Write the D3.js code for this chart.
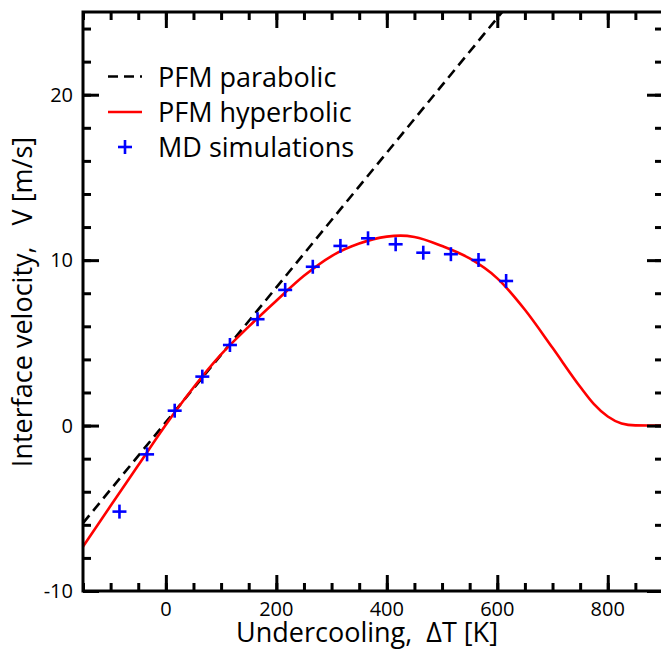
<!DOCTYPE html>
<html>
<head>
<meta charset="utf-8">
<script src="https://cdn.jsdelivr.net/npm/d3@7"></script>
<style>
  html, body { margin: 0; padding: 0; background: #fff; }
  svg text { font-family: "Open Sans", "Noto Sans", sans-serif; fill: #000; }
</style>
</head>
<body>
<svg id="chart" width="661" height="654"></svg>
<script>
// ---- data ----
const mdUndercooling = [-84, -34, 16, 66, 116, 166, 216, 266, 316, 366, 416, 466, 516, 566, 616];
const mdVelocity     = [-5.2, -1.74, 0.9, 2.96, 4.87, 6.43, 8.2, 9.6, 10.86, 11.32, 10.96, 10.45, 10.36, 10.01, 8.74];

const hypUndercooling = [-150, -100, -50, 0, 50, 100, 150, 200, 250, 300, 350, 400, 425, 450, 500, 550, 600, 650, 700, 750, 775, 800, 825, 850, 875, 900];
const hypVelocity     = [-7.32, -4.85, -2.4, 0.05, 2.3, 4.3, 5.98, 7.55, 9.05, 10.25, 11.0, 11.42, 11.48, 11.4, 10.85, 10.1, 8.9, 7.0, 4.7, 2.35, 1.3, 0.55, 0.13, 0.01, 0, 0];

const parUndercooling = [-150, 615];
const parVelocity     = [-5.9, 25.25];

const xTicks = [0, 200, 400, 600, 800];
const yTicks = [-10, 0, 10, 20];
const legendLabels = ["PFM parabolic", "PFM hyperbolic", "MD simulations"];

// ---- layout ----
const svg = d3.select("#chart");
const mLeft = 83, mRight = 663, mTop = 12, mBottom = 591;
const x = d3.scaleLinear().domain([-150, 900]).range([mLeft, mRight]);
const y = d3.scaleLinear().domain([-10, 25]).range([mBottom, mTop]);

const defs = svg.append("defs");
defs.append("clipPath").attr("id", "clip")
  .append("rect").attr("x", mLeft).attr("y", mTop).attr("width", mRight - mLeft).attr("height", mBottom - mTop);

const plot = svg.append("g").attr("clip-path", "url(#clip)");

const line = d3.line().x(d => x(d[0])).y(d => y(d[1]));

// parabolic dashed
plot.append("path")
  .datum(d3.zip(parUndercooling, parVelocity))
  .attr("d", line)
  .attr("fill", "none").attr("stroke", "#000").attr("stroke-width", 2.6)
  .attr("stroke-dasharray", "10,6");

// hyperbolic red
plot.append("path")
  .datum(d3.zip(hypUndercooling, hypVelocity))
  .attr("d", d3.line().x(d => x(d[0])).y(d => y(d[1])).curve(d3.curveMonotoneX))
  .attr("fill", "none").attr("stroke", "#ff0000").attr("stroke-width", 2.6);

// MD plus markers
const plusSize = 7;
const plus = (g) => {
  g.append("line").attr("x1", -plusSize).attr("x2", plusSize).attr("y1", 0).attr("y2", 0);
  g.append("line").attr("x1", 0).attr("x2", 0).attr("y1", -plusSize).attr("y2", plusSize);
};
const md = plot.selectAll("g.md").data(d3.zip(mdUndercooling, mdVelocity)).enter()
  .append("g").attr("class", "md")
  .attr("transform", d => `translate(${x(d[0])},${y(d[1])})`)
  .attr("stroke", "#0000ff").attr("stroke-width", 2.6);
md.each(function() { plus(d3.select(this)); });

// ---- axes (ticks inward on all four sides) ----
const xMinor = d3.range(-150, 901, 50);
const yMinor = d3.range(-10, 25.01, 2);
const axisW = 3;

function styleAxis(g) {
  g.selectAll("path.domain").remove();
  g.selectAll(".tick line").attr("stroke", "#000").attr("stroke-width", 3);
}

svg.append("g").attr("transform", `translate(0,${mBottom})`)
  .call(d3.axisBottom(x).tickValues(xMinor).tickSize(-8).tickFormat(""))
  .call(styleAxis);
svg.append("g").attr("transform", `translate(0,${mTop})`)
  .call(d3.axisTop(x).tickValues(xMinor).tickSize(-8).tickFormat(""))
  .call(styleAxis);
svg.append("g").attr("transform", `translate(${mLeft},0)`)
  .call(d3.axisLeft(y).tickValues(yMinor).tickSize(-8).tickFormat(""))
  .call(styleAxis);
svg.append("g").attr("transform", `translate(${mRight},0)`)
  .call(d3.axisRight(y).tickValues(yMinor).tickSize(-8).tickFormat(""))
  .call(styleAxis);

const xMajor = d3.range(0, 901, 200);
const yMajor = d3.range(-10, 25.01, 10);
svg.append("g").attr("transform", `translate(0,${mBottom})`)
  .call(d3.axisBottom(x).tickValues(xMajor).tickSize(-16).tickFormat(""))
  .call(styleAxis);
svg.append("g").attr("transform", `translate(0,${mTop})`)
  .call(d3.axisTop(x).tickValues(xMajor).tickSize(-16).tickFormat(""))
  .call(styleAxis);
svg.append("g").attr("transform", `translate(${mLeft},0)`)
  .call(d3.axisLeft(y).tickValues(yMajor).tickSize(-16).tickFormat(""))
  .call(styleAxis);
svg.append("g").attr("transform", `translate(${mRight},0)`)
  .call(d3.axisRight(y).tickValues(yMajor).tickSize(-16).tickFormat(""))
  .call(styleAxis);

// tick labels
svg.append("g").selectAll("text").data(xTicks).enter().append("text")
  .attr("x", d => x(d)).attr("y", 616)
  .attr("text-anchor", "middle").attr("font-size", 20)
  .text(d => d);
svg.append("g").selectAll("text").data(yTicks).enter().append("text")
  .attr("x", 73).attr("y", d => y(d) + 7)
  .attr("text-anchor", "end").attr("font-size", 20)
  .text(d => d);

// frame
svg.append("rect").attr("x", mLeft).attr("y", mTop)
  .attr("width", mRight - mLeft).attr("height", mBottom - mTop)
  .attr("fill", "none").attr("stroke", "#000").attr("stroke-width", axisW);

// axis titles
svg.append("text")
  .attr("x", 367).attr("y", 642)
  .attr("text-anchor", "middle").attr("font-size", 27)
  .style("white-space", "pre")
  .text("Undercooling,  \u0394T [K]");
svg.append("text")
  .attr("transform", `translate(32,302) rotate(-90)`)
  .attr("text-anchor", "middle").attr("font-size", 27)
  .style("white-space", "pre")
  .text("Interface velocity,   V [m/s]");

// legend
const legendY = [76.5, 112, 147];
const lg = svg.append("g");
lg.append("line").attr("x1", 108).attr("x2", 142).attr("y1", legendY[0]).attr("y2", legendY[0])
  .attr("stroke", "#000").attr("stroke-width", 2.6).attr("stroke-dasharray", "10,6");
lg.append("line").attr("x1", 108).attr("x2", 142).attr("y1", legendY[1]).attr("y2", legendY[1])
  .attr("stroke", "#ff0000").attr("stroke-width", 2.6);
const lp = lg.append("g").attr("transform", `translate(125,${legendY[2]})`)
  .attr("stroke", "#0000ff").attr("stroke-width", 2.6);
plus(lp);
lg.selectAll("text.leg").data(legendLabels).enter().append("text")
  .attr("class", "leg")
  .attr("x", 158).attr("y", (d, i) => legendY[i] + 10)
  .attr("font-size", 27)
  .text(d => d);
</script>
</body>
</html>
